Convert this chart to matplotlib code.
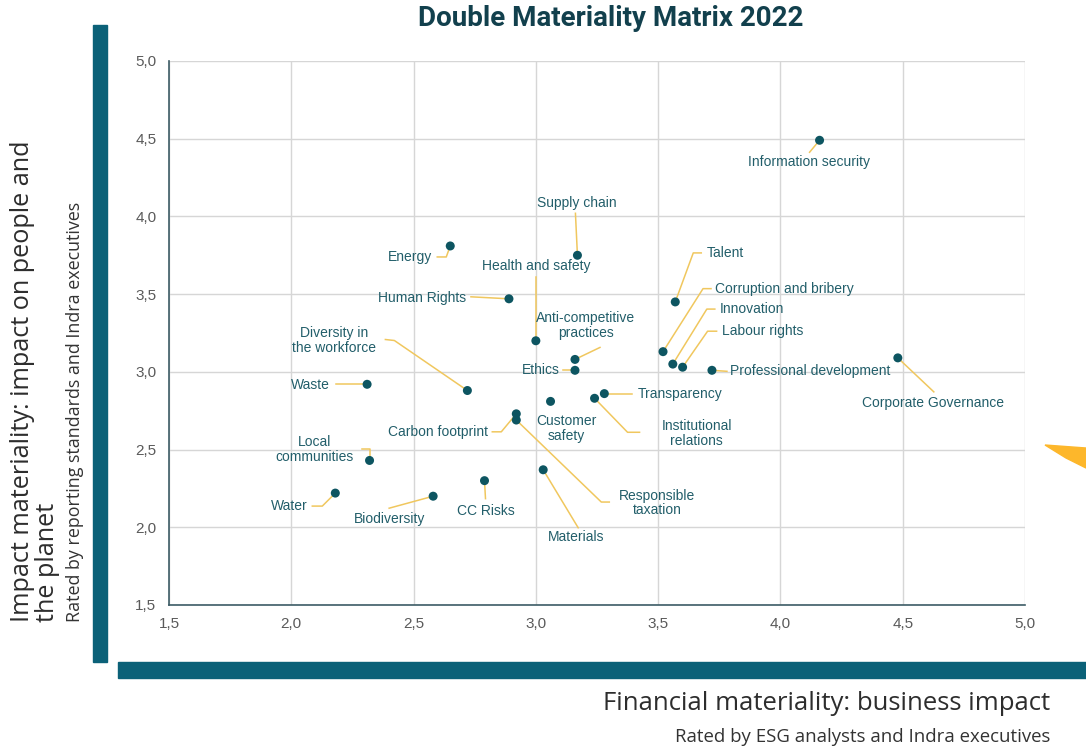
import numpy as np
import matplotlib.pyplot as plt
from matplotlib.patches import Polygon, Rectangle

# materiality scores
topics = ['Information security', 'Supply chain', 'Energy', 'Human Rights',
          'Health and safety', 'Anti-competitive\npractices', 'Ethics', 'Waste',
          'Diversity in\nthe workforce', 'Customer\nsafety', 'Transparency',
          'Institutional\nrelations', 'Carbon footprint', 'Responsible\ntaxation',
          'Local\ncommunities', 'Water', 'Biodiversity', 'CC Risks', 'Materials',
          'Talent', 'Corruption and bribery', 'Innovation', 'Labour rights',
          'Professional development', 'Corporate Governance']
financial = [4.16, 3.17, 2.65, 2.89, 3.00, 3.16, 3.16, 2.31, 2.72, 3.06, 3.28,
             3.24, 2.92, 2.92, 2.32, 2.18, 2.58, 2.79, 3.03, 3.57, 3.52, 3.56,
             3.60, 3.72, 4.48]
impact = [4.49, 3.75, 3.81, 3.47, 3.20, 3.08, 3.01, 2.92, 2.88, 2.81, 2.86,
          2.83, 2.73, 2.69, 2.43, 2.22, 2.20, 2.30, 2.37, 3.45, 3.13, 3.05,
          3.03, 3.01, 3.09]
ticks = [1.5, 2.0, 2.5, 3.0, 3.5, 4.0, 4.5, 5.0]
tick_labels = ['1,5', '2,0', '2,5', '3,0', '3,5', '4,0', '4,5', '5,0']

# label placement: text offset (px, y down), alignment, leader vertices (px)
layout = {
    'Information security': (-11, 22, 'center', [(0, 0), (-10, 12)]),
    'Supply chain': (-1, -52, 'center', [(0, 0), (-2, -42)]),
    'Energy': (-18, 11, 'right', [(0, 0), (-4, 11), (-13, 11)]),
    'Human Rights': (-43, -1, 'right', [(0, 0), (-38, -2)]),
    'Health and safety': (0, -75, 'center', [(0, 0), (0, -64)]),
    'Anti-competitive\npractices': (11, -34, 'center', [(0, 0), (25, -12)]),
    'Ethics': (-15, 0, 'right', [(0, 0), (-12, 0)]),
    'Waste': (-37, 1, 'right', [(0, 0), (-31, 0)]),
    'Diversity in\nthe workforce': (-133, -50, 'center', [(0, 0), (-73, -50), (-82, -51)]),
    'Customer\nsafety': (16, 27, 'center', []),
    'Transparency': (33, 0, 'left', [(0, 0), (28, 0)]),
    'Institutional\nrelations': (102, 35, 'center', [(0, 0), (33, 34), (45, 34)]),
    'Carbon footprint': (-28, 18, 'right', [(0, 0), (-15, 18), (-24, 18)]),
    'Responsible\ntaxation': (141, 83, 'center', [(0, 0), (85, 82), (93, 82)]),
    'Local\ncommunities': (-55, -11, 'center', [(0, 0), (0, -11), (-8, -11)]),
    'Water': (-28, 13, 'right', [(0, 0), (-13, 13), (-23, 13)]),
    'Biodiversity': (-44, 23, 'center', [(0, 0), (-44, 12)]),
    'CC Risks': (1, 30, 'center', [(0, 0), (1, 18)]),
    'Materials': (33, 67, 'center', [(0, 0), (35, 58)]),
    'Talent': (31, -49, 'left', [(0, 0), (18, -49), (26, -49)]),
    'Corruption and bribery': (52, -63, 'left', [(0, 0), (40, -63), (48, -63)]),
    'Innovation': (47, -55, 'left', [(0, 0), (34, -55), (42, -55)]),
    'Labour rights': (39, -36, 'left', [(0, 0), (25, -36), (34, -36)]),
    'Professional development': (18, 1, 'left', [(0, 0), (15, 1)]),
    'Corporate Governance': (35, 45, 'center', [(0, 0), (36, 34)]),
}

teal = '#0b6178'
dot = '#0d5561'
label_col = '#225e6a'
leader_col = '#f0c75e'

W, H = 1086, 749
fig = plt.figure(figsize=(W / 100, H / 100), dpi=100)
ax = fig.add_axes([169 / W, 1 - 605 / H, (1025 - 169) / W, (605 - 61) / H])

ax.set_xlim(1.5, 5.0)
ax.set_ylim(1.5, 5.0)
ax.set_xticks(ticks)
ax.set_yticks(ticks)
ax.set_xticklabels(tick_labels)
ax.set_yticklabels(tick_labels)
ax.tick_params(length=0, labelsize=11, labelcolor='#5a5a5a', pad=9)
for lab in ax.get_xticklabels() + ax.get_yticklabels():
    lab.set_family('Liberation Sans')
ax.grid(True, color='#d6d6d6', lw=1)
ax.set_axisbelow(True)
for s in ['top', 'right']:
    ax.spines[s].set_visible(False)
for s in ['left', 'bottom']:
    ax.spines[s].set_color('#3d5c66')
    ax.spines[s].set_linewidth(1.2)

ax.scatter(financial, impact, s=42, color=dot, zorder=4, edgecolors='none')

to_data = ax.transData.inverted()
for name, x, y in zip(topics, financial, impact):
    dx, dy, ha, leader = layout[name]
    px, py = ax.transData.transform((x, y))
    if leader:
        verts = np.array([(px + a, py - b) for a, b in leader])
        lx, ly = to_data.transform(verts).T
        ax.plot(lx, ly, color=leader_col, lw=1.1, zorder=3)
    tx, ty = to_data.transform((px + dx, py - dy))
    ax.text(tx, ty, name, ha=ha, va='center', fontsize=10, color=label_col,
            family='Liberation Sans', linespacing=1.05, zorder=5)

# decorative bars
fig.patches.append(Rectangle((93 / W, 1 - 662 / H), 14 / W, (662 - 25) / H,
                             transform=fig.transFigure, color=teal))
fig.patches.append(Rectangle((118 / W, 1 - 678 / H), (W - 118) / W, 16 / H,
                             transform=fig.transFigure, color=teal))
fig.patches.append(Polygon([(1045 / W, 1 - 445 / H), (1086 / W, 1 - 448 / H),
                            (1086 / W, 1 - 468 / H), (1066 / W, 1 - 458 / H)],
                           transform=fig.transFigure, color='#fdb72b'))

fig.text(611 / W, 1 - 19 / H, 'Double Materiality Matrix 2022', ha='center',
         va='center', fontsize=20, fontweight='bold', color='#12404d',
         family='Roboto')
fig.text(1050 / W, 1 - 703 / H, 'Financial materiality: business impact',
         ha='right', va='center', fontsize=18.5, color='#2d2d2d',
         family='Open Sans')
fig.text(1050 / W, 1 - 737 / H, 'Rated by ESG analysts and Indra executives',
         ha='right', va='center', fontsize=13.4, color='#333333',
         family='Open Sans')
fig.text(35 / W, 1 - 622 / H, 'Impact materiality: impact on people and\nthe planet',
         rotation=90, ha='center', va='bottom', multialignment='left',
         fontsize=18.2, color='#2d2d2d', family='Open Sans', linespacing=0.95)
fig.text(75 / W, 1 - 622 / H, 'Rated by reporting standards and Indra executives',
         rotation=90, ha='center', va='bottom', fontsize=12.9, color='#333333',
         family='Open Sans')

fig.savefig('out.png', dpi=100)
